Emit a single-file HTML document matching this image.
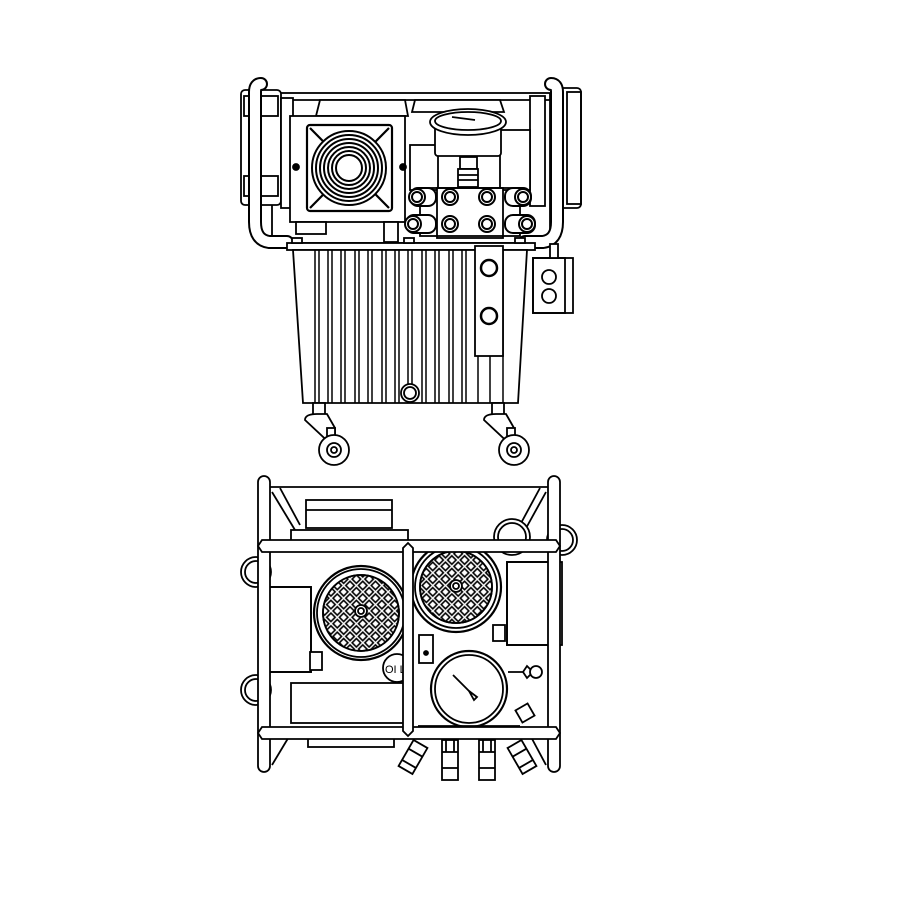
<!DOCTYPE html>
<html><head><style>html,body{margin:0;padding:0;background:#fff}svg{display:block}</style></head>
<body>
<svg width="900" height="900" viewBox="0 0 900 900" xmlns="http://www.w3.org/2000/svg" fill="none" stroke="#000" stroke-width="1.8">
<defs>
<pattern id="dia" width="9" height="9" patternUnits="userSpaceOnUse" patternTransform="rotate(45)">
<rect x="1.5" y="1.5" width="6" height="6" fill="none" stroke="#000" stroke-width="1.6"/>
</pattern>
</defs>
<rect width="900" height="900" fill="#fff" stroke="none"/>

<!-- ============ TOP VIEW ============ -->
<rect x="272" y="93" width="278" height="150" fill="#fff"/>
<line x1="272" y1="100" x2="550" y2="100"/>
<rect x="241" y="90" width="40" height="115" rx="4" fill="#fff"/>
<rect x="244" y="96" width="34" height="20"/>
<rect x="244" y="176" width="34" height="20"/>
<rect x="281" y="98" width="12" height="110" fill="#fff"/>
<rect x="557" y="88" width="24" height="120" rx="4" fill="#fff"/>
<rect x="567" y="92" width="14" height="112"/>
<rect x="530" y="96" width="15" height="110" fill="#fff"/>
<path d="M320 100 L405 100 L408 116 L316 116 Z" fill="#fff"/>
<path d="M415 100 L500 100 L504 112 L412 112 Z" fill="#fff"/>
<rect x="410" y="145" width="28" height="45" fill="#fff"/>
<rect x="500" y="130" width="30" height="60" fill="#fff"/>
<!-- handles -->
<path d="M261 84 q-6 0 -6 8 v130 q0 18 14 20 h18" stroke-width="14" stroke="#000" stroke-linecap="round"/>
<path d="M261 84 q-6 0 -6 8 v130 q0 18 14 20 h18" stroke-width="10" stroke="#fff" stroke-linecap="round"/>
<path d="M551 84 q6 0 6 8 v130 q0 18 -14 20 h-18" stroke-width="14" stroke="#000" stroke-linecap="round"/>
<path d="M551 84 q6 0 6 8 v130 q0 18 -14 20 h-18" stroke-width="10" stroke="#fff" stroke-linecap="round"/>
<!-- fan -->
<rect x="290" y="116" width="115" height="106" fill="#fff"/>
<rect x="307" y="125" width="85" height="86" rx="3" fill="#fff" stroke-width="2.2"/>
<line x1="310" y1="128" x2="389" y2="208" stroke-width="2.2"/><line x1="389" y1="128" x2="310" y2="208" stroke-width="2.2"/>
<g fill="#fff" stroke-width="2">
<circle cx="349" cy="168" r="37"/><circle cx="349" cy="168" r="33"/><circle cx="349" cy="168" r="29"/>
<circle cx="349" cy="168" r="25"/><circle cx="349" cy="168" r="21"/><circle cx="349" cy="168" r="17"/>
<circle cx="349" cy="168" r="13"/>
</g>
<circle cx="296" cy="167" r="3" fill="#000"/><circle cx="403" cy="167" r="3" fill="#000"/>
<rect x="296" y="222" width="30" height="12" fill="#fff"/>
<rect x="384" y="222" width="14" height="20" fill="#fff"/>
<!-- gauge -->
<rect x="435" y="118" width="66" height="38" rx="3" fill="#fff"/>
<ellipse cx="468" cy="122" rx="38" ry="13" fill="#fff"/>
<ellipse cx="468" cy="121" rx="33" ry="9" fill="#fff"/>
<line x1="452" y1="117" x2="475" y2="120"/>
<rect x="460" y="157" width="17" height="12" fill="#fff"/>
<rect x="458" y="169" width="20" height="18" fill="#fff"/>
<line x1="458" y1="175" x2="478" y2="175"/><line x1="458" y1="180" x2="478" y2="180"/>
<!-- manifold -->
<rect x="437" y="188" width="66" height="50" fill="#fff"/>
<rect x="420" y="188" width="100" height="48"/>
<g fill="#fff" stroke-width="2">
<circle cx="450" cy="197" r="8"/><circle cx="450" cy="197" r="5"/>
<circle cx="487" cy="197" r="8"/><circle cx="487" cy="197" r="5"/>
<circle cx="450" cy="224" r="8"/><circle cx="450" cy="224" r="5"/>
<circle cx="487" cy="224" r="8"/><circle cx="487" cy="224" r="5"/>
<rect x="410" y="188" width="26" height="18" rx="8"/><circle cx="417" cy="197" r="8"/><circle cx="417" cy="197" r="5"/>
<rect x="406" y="215" width="30" height="18" rx="8"/><circle cx="413" cy="224" r="8"/><circle cx="413" cy="224" r="5"/>
<rect x="505" y="188" width="26" height="18" rx="8"/><circle cx="523" cy="197" r="8"/><circle cx="523" cy="197" r="5"/>
<rect x="505" y="215" width="30" height="18" rx="8"/><circle cx="527" cy="224" r="8"/><circle cx="527" cy="224" r="5"/>
</g>
<!-- plate -->
<rect x="287" y="243" width="248" height="7" fill="#fff"/>
<rect x="292" y="238" width="10" height="5" fill="#fff"/><rect x="404" y="238" width="10" height="5" fill="#fff"/><rect x="515" y="238" width="10" height="5" fill="#fff"/>
<!-- tank -->
<path d="M293 250 L527 250 L518 403 L303 403 Z" fill="#fff"/>
<g stroke-width="1.5">
<line x1="315" y1="250" x2="315" y2="403"/><line x1="319" y1="250" x2="319" y2="403"/>
<line x1="328" y1="250" x2="328" y2="403"/><line x1="332" y1="250" x2="332" y2="403"/>
<line x1="341" y1="250" x2="341" y2="403"/><line x1="345" y1="250" x2="345" y2="403"/>
<line x1="355" y1="250" x2="355" y2="403"/><line x1="359" y1="250" x2="359" y2="403"/>
<line x1="368" y1="250" x2="368" y2="403"/><line x1="372" y1="250" x2="372" y2="403"/>
<line x1="382" y1="250" x2="382" y2="403"/><line x1="386" y1="250" x2="386" y2="403"/>
<line x1="395" y1="250" x2="395" y2="403"/><line x1="399" y1="250" x2="399" y2="403"/>
<line x1="408" y1="250" x2="408" y2="385"/><line x1="412" y1="250" x2="412" y2="385"/>
<line x1="422" y1="250" x2="422" y2="403"/><line x1="426" y1="250" x2="426" y2="403"/>
<line x1="435" y1="250" x2="435" y2="403"/><line x1="439" y1="250" x2="439" y2="403"/>
<line x1="449" y1="250" x2="449" y2="403"/><line x1="453" y1="250" x2="453" y2="403"/>
<line x1="462" y1="250" x2="462" y2="403"/><line x1="466" y1="250" x2="466" y2="403"/>
<line x1="478" y1="355" x2="478" y2="403"/><line x1="490" y1="355" x2="490" y2="403"/>
<line x1="503" y1="250" x2="503" y2="403"/>
</g>
<rect x="475" y="246" width="28" height="110" fill="#fff"/>
<circle cx="489" cy="268" r="8" stroke-width="2.5"/><circle cx="489" cy="316" r="8" stroke-width="2.5"/>
<circle cx="410" cy="393" r="9" fill="#fff"/><circle cx="410" cy="393" r="6"/>
<!-- electrical box -->
<rect x="533" y="258" width="40" height="55" fill="#fff"/><rect x="533" y="258" width="32" height="55"/>
<circle cx="549" cy="277" r="7"/><circle cx="549" cy="296" r="7"/>
<rect x="550" y="244" width="8" height="14" fill="#fff"/>
<!-- casters -->
<g fill="#fff">
<rect x="313" y="403" width="12" height="12"/>
<path d="M305 420 q0 -6 12 -6 h10 l8 14 v20 z"/>
<rect x="327" y="428" width="8" height="22"/>
<circle cx="334" cy="450" r="15"/><circle cx="334" cy="450" r="7"/><circle cx="334" cy="450" r="3"/>
<rect x="492" y="403" width="12" height="12"/>
<path d="M484 420 q0 -6 12 -6 h10 l8 14 v20 z"/>
<rect x="507" y="428" width="8" height="22"/>
<circle cx="514" cy="450" r="15"/><circle cx="514" cy="450" r="7"/><circle cx="514" cy="450" r="3"/>
</g>

<!-- ============ BOTTOM VIEW ============ -->
<line x1="270" y1="487" x2="548" y2="487"/>
<line x1="272" y1="492" x2="295" y2="530"/><line x1="280" y1="488" x2="300" y2="525"/>
<line x1="546" y1="492" x2="525" y2="530"/><line x1="540" y1="488" x2="520" y2="525"/>
<line x1="272" y1="765" x2="290" y2="735"/><line x1="546" y1="765" x2="530" y2="735"/>
<rect x="291" y="530" width="117" height="20" fill="#fff"/>
<rect x="306" y="500" width="86" height="28" fill="#fff"/>
<line x1="306" y1="510" x2="392" y2="510"/>
<rect x="291" y="683" width="117" height="40" fill="#fff"/>
<rect x="308" y="735" width="86" height="12" fill="#fff"/>
<g fill="#fff">
<circle cx="256" cy="572" r="15"/><circle cx="256" cy="572" r="11"/>
<circle cx="256" cy="690" r="15"/><circle cx="256" cy="690" r="11"/>
<circle cx="512" cy="537" r="18"/><circle cx="512" cy="537" r="14"/>
<circle cx="562" cy="540" r="15"/><circle cx="562" cy="540" r="11"/>
</g>
<rect x="263" y="587" width="48" height="85" fill="#fff"/>
<rect x="269" y="587" width="42" height="85"/>
<rect x="310" y="652" width="12" height="18" fill="#fff"/>
<rect x="507" y="562" width="55" height="83" fill="#fff"/>
<rect x="507" y="562" width="42" height="83"/>
<rect x="493" y="625" width="12" height="16" fill="#fff"/>
<circle cx="361" cy="613" r="47" fill="#fff" stroke-width="2.2"/>
<circle cx="361" cy="613" r="44"/>
<circle cx="361" cy="613" r="38" fill="url(#dia)"/>
<circle cx="361" cy="613" r="38"/>
<circle cx="361" cy="611" r="6" fill="#fff"/><circle cx="361" cy="611" r="3"/>
<circle cx="456" cy="587" r="45" fill="#fff" stroke-width="2.2"/>
<circle cx="456" cy="587" r="41"/>
<circle cx="456" cy="587" r="36" fill="url(#dia)"/>
<circle cx="456" cy="587" r="36"/>
<circle cx="456" cy="586" r="6" fill="#fff"/><circle cx="456" cy="586" r="3"/>
<circle cx="397" cy="668" r="14" fill="#fff"/>
<text x="385" y="673" font-family="Liberation Sans, sans-serif" font-size="11" fill="#000" stroke="none">OI L</text>
<rect x="419" y="635" width="14" height="28" fill="#fff"/>
<circle cx="426" cy="653" r="2" fill="#000"/>
<circle cx="469" cy="689" r="38" fill="#fff" stroke-width="2.2"/>
<circle cx="469" cy="689" r="34"/>
<line x1="453" y1="675" x2="471" y2="693"/>
<path d="M469 691 l8 6 l-3 3 z" fill="#fff"/>
<path d="M508 672 h15 l4 -6 l6 6 l-6 6 l-4 -6" fill="#fff"/>
<circle cx="536" cy="672" r="6" fill="#fff"/>
<rect x="518" y="706" width="14" height="14" transform="rotate(-30 525 713)" fill="#fff"/>
<line x1="418" y1="726" x2="520" y2="726"/>
<g fill="#fff">
<rect x="258" y="476" width="12" height="296" rx="6"/>
<rect x="548" y="476" width="12" height="296" rx="6"/>
<path d="M262 540 L556 540 L560 546 L556 552 L262 552 L258 546 Z"/>
<path d="M262 727 L556 727 L560 733 L556 739 L262 739 L258 733 Z"/>
<path d="M403 548 L408 543 L413 548 L413 731 L408 736 L403 731 Z"/>
</g>
<g fill="#fff">
<g transform="rotate(30 413 757)"><rect x="405" y="742" width="16" height="30"/><line x1="405" y1="752" x2="421" y2="752"/><line x1="405" y1="765" x2="421" y2="765"/></g>
<rect x="442" y="740" width="16" height="40"/><line x1="442" y1="752" x2="458" y2="752"/><line x1="442" y1="768" x2="458" y2="768"/><line x1="446" y1="740" x2="446" y2="752"/><line x1="454" y1="740" x2="454" y2="752"/>
<rect x="479" y="740" width="16" height="40"/><line x1="479" y1="752" x2="495" y2="752"/><line x1="479" y1="768" x2="495" y2="768"/><line x1="483" y1="740" x2="483" y2="752"/><line x1="491" y1="740" x2="491" y2="752"/>
<g transform="rotate(-30 522 757)"><rect x="514" y="742" width="16" height="30"/><line x1="514" y1="752" x2="530" y2="752"/><line x1="514" y1="765" x2="530" y2="765"/></g>
</g>
</svg>
</body></html>
